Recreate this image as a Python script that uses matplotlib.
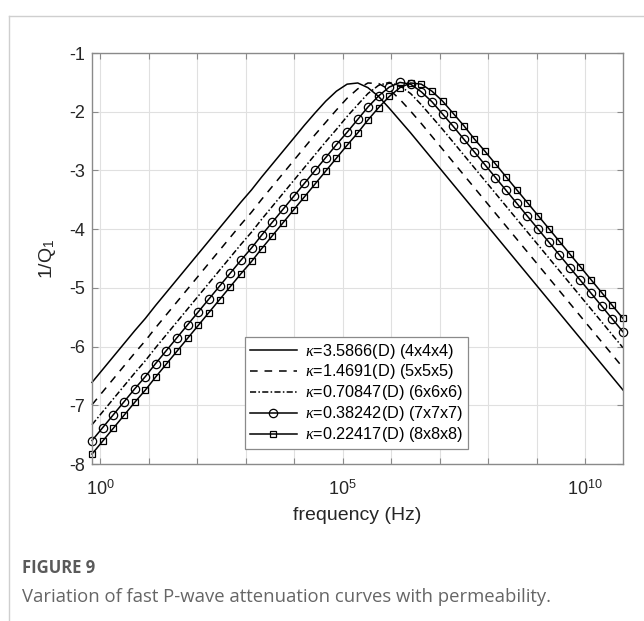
import numpy as np
import matplotlib
matplotlib.use('Agg')
import matplotlib.pyplot as plt
from matplotlib.lines import Line2D

plt.rcParams['font.family'] = ['Liberation Sans', 'DejaVu Sans']
plt.rcParams['mathtext.fontset'] = 'custom'
plt.rcParams['mathtext.rm'] = 'Liberation Sans'
plt.rcParams['mathtext.it'] = 'Liberation Serif:italic'

# log10 of frequency (Hz) at the sampled points
freq_exp = [-0.17, 0.05, 0.27, 0.49, 0.71, 0.93, 1.14, 1.36, 1.58, 1.80,
            2.02, 2.24, 2.46, 2.68, 2.90, 3.12, 3.33, 3.55, 3.77, 3.99,
            4.21, 4.43, 4.65, 4.87, 5.09, 5.31, 5.52, 5.74, 5.96, 6.18,
            6.40, 6.62, 6.84, 7.06, 7.28, 7.50, 7.71, 7.93, 8.15, 8.37,
            8.59, 8.81, 9.03, 9.25, 9.47, 9.69, 9.90, 10.12, 10.34, 10.56,
            10.78]

# 1/Q1 (one list per permeability)
q_4x4x4 = [-6.61, -6.39, -6.17, -5.95, -5.73, -5.52, -5.30, -5.08, -4.86, -4.64,
           -4.42, -4.20, -3.98, -3.76, -3.54, -3.33, -3.11, -2.89, -2.67, -2.45,
           -2.23, -2.02, -1.82, -1.65, -1.53, -1.51, -1.59, -1.74, -1.94, -2.15,
           -2.36, -2.58, -2.80, -3.02, -3.24, -3.46, -3.67, -3.89, -4.11, -4.33,
           -4.55, -4.77, -4.99, -5.21, -5.43, -5.65, -5.86, -6.08, -6.30, -6.52,
           -6.74]
q_5x5x5 = [-6.99, -6.77, -6.55, -6.33, -6.11, -5.90, -5.68, -5.46, -5.24, -5.02,
           -4.80, -4.58, -4.36, -4.14, -3.92, -3.71, -3.49, -3.27, -3.05, -2.83,
           -2.61, -2.39, -2.18, -1.97, -1.77, -1.61, -1.51, -1.52, -1.62, -1.79,
           -1.99, -2.20, -2.42, -2.64, -2.86, -3.08, -3.29, -3.51, -3.73, -3.95,
           -4.17, -4.39, -4.61, -4.83, -5.05, -5.27, -5.48, -5.70, -5.92, -6.14,
           -6.36]
q_6x6x6 = [-7.33, -7.11, -6.89, -6.67, -6.45, -6.24, -6.02, -5.80, -5.58, -5.36,
           -5.14, -4.92, -4.70, -4.48, -4.26, -4.05, -3.83, -3.61, -3.39, -3.17,
           -2.95, -2.73, -2.51, -2.30, -2.08, -1.88, -1.69, -1.55, -1.50, -1.56,
           -1.69, -1.88, -2.09, -2.30, -2.52, -2.74, -2.95, -3.17, -3.39, -3.61,
           -3.83, -4.05, -4.27, -4.49, -4.71, -4.93, -5.14, -5.36, -5.58, -5.80,
           -6.02]
q_7x7x7 = [-7.60, -7.38, -7.16, -6.94, -6.72, -6.51, -6.29, -6.07, -5.85, -5.63,
           -5.41, -5.19, -4.97, -4.75, -4.53, -4.32, -4.10, -3.88, -3.66, -3.44,
           -3.22, -3.00, -2.78, -2.56, -2.35, -2.13, -1.92, -1.73, -1.58, -1.50,
           -1.53, -1.66, -1.83, -2.04, -2.25, -2.47, -2.68, -2.90, -3.12, -3.34,
           -3.56, -3.78, -4.00, -4.22, -4.44, -4.66, -4.87, -5.09, -5.31, -5.53,
           -5.75]
q_8x8x8 = [-7.83, -7.61, -7.39, -7.17, -6.95, -6.74, -6.52, -6.30, -6.08, -5.86,
           -5.64, -5.42, -5.20, -4.98, -4.76, -4.55, -4.33, -4.11, -3.89, -3.67,
           -3.45, -3.23, -3.01, -2.79, -2.57, -2.36, -2.14, -1.93, -1.74, -1.59,
           -1.51, -1.53, -1.65, -1.82, -2.03, -2.24, -2.46, -2.67, -2.89, -3.11,
           -3.33, -3.55, -3.77, -3.99, -4.21, -4.43, -4.64, -4.86, -5.08, -5.30,
           -5.52]

legend_labels = [r'$\kappa$=3.5866(D) (4x4x4)',
                 r'$\kappa$=1.4691(D) (5x5x5)',
                 r'$\kappa$=0.70847(D) (6x6x6)',
                 r'$\kappa$=0.38242(D) (7x7x7)',
                 r'$\kappa$=0.22417(D) (8x8x8)']

xtick_exp = list(range(0, 11))
xtick_labels = [r'$10^{0}$', '', '', '', '', r'$10^{5}$', '', '', '', '', r'$10^{10}$']
yticks = [-8, -7, -6, -5, -4, -3, -2, -1]

fig = plt.figure(figsize=(6.44, 6.21), dpi=100)
ax = fig.add_axes([0.1429, 0.2528, 0.8245, 0.6618])

freq = 10.0 ** np.array(freq_exp)
series = [q_4x4x4, q_5x5x5, q_6x6x6, q_7x7x7, q_8x8x8]
styles = [
    dict(ls='-'),
    dict(ls=(0, (5, 4.5))),
    dict(ls=(0, (4, 1.5, 1, 1.5))),
    dict(ls='-', marker='o', ms=6.0, mfc='none', mew=0.9),
    dict(ls='-', marker='s', ms=3.8, mfc='none', mew=0.9),
]
for q, st, lab in zip(series, styles, legend_labels):
    ax.plot(freq, q, color='black', lw=1.1, label=lab, clip_on=False, **st)

ax.set_xscale('log')
ax.set_xlim(freq[0], freq[-1])
ax.set_ylim(-8, -1)
ax.set_xticks(10.0 ** np.array(xtick_exp))
ax.set_xticklabels(xtick_labels)
ax.xaxis.set_minor_locator(matplotlib.ticker.NullLocator())
ax.set_yticks(yticks)
ax.set_yticklabels([str(v) for v in yticks])

ax.grid(True, color='#e0e0e0', lw=0.8)
ax.set_axisbelow(True)
for s in ax.spines.values():
    s.set_color('#8a8a8a')
    s.set_linewidth(1.0)
ax.tick_params(direction='in', length=4, width=0.8, color='#8a8a8a',
               top=True, right=True, labelsize=13, labelcolor='#262626', pad=5)
ax.tick_params(axis='x', pad=11)

ax.set_xlabel('frequency (Hz)', fontsize=14, color='#262626', labelpad=6)
ax.set_ylabel(r'1/Q$_1$', fontsize=14, color='#262626', labelpad=8)

leg = ax.legend(loc='lower center', bbox_to_anchor=(0.498, 0.036), borderaxespad=0,
                fontsize=11.7, fancybox=False, framealpha=1, edgecolor='#8a8a8a',
                handlelength=2.9, handletextpad=0.5, labelspacing=0.12,
                borderpad=0.3)
leg.get_frame().set_linewidth(0.9)

# panel frame and caption
fig.add_artist(Line2D([9 / 644, 1], [1 - 16 / 621] * 2, transform=fig.transFigure,
                      color='#cfcfcf', lw=1))
fig.add_artist(Line2D([9 / 644] * 2, [0, 1 - 16 / 621], transform=fig.transFigure,
                      color='#cfcfcf', lw=1))
fig.text(22 / 644, 1 - 568 / 621, 'FIGURE 9', fontsize=12, weight='bold',
         color='#5a5a5a', family='Open Sans', va='center')
fig.text(22 / 644, 1 - 597 / 621,
         'Variation of fast P-wave attenuation curves with permeability.',
         fontsize=13.3, color='#666666', family='Open Sans', va='center')

fig.savefig('out.png', dpi=100, facecolor='white')
